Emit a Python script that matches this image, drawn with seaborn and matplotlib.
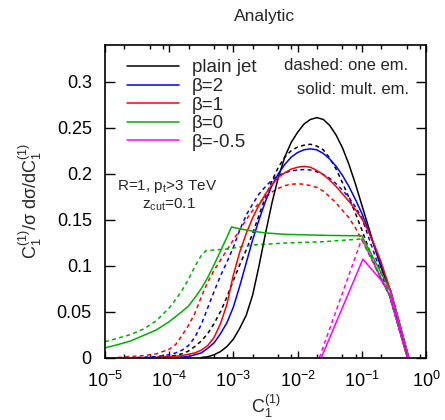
import numpy as np
import matplotlib
matplotlib.use("Agg")
import matplotlib.pyplot as plt
import matplotlib.ticker as mticker
import seaborn as sns

# ---- data (log10 of C1, value) ----
plain_solid_lx = [-3.5, -3.4, -3.3, -3.2, -3.1, -3.0, -2.9, -2.8, -2.7, -2.6, -2.5, -2.4, -2.3, -2.2, -2.1, -2.0,
                  -1.9, -1.8, -1.7, -1.6, -1.5, -1.4, -1.3, -1.2, -1.1, -1.0, -0.9, -0.8, -0.7, -0.62, -0.55, -0.27]
plain_solid_y = [0.0, 0.0008, 0.003, 0.0065, 0.012, 0.020, 0.032, 0.046, 0.068, 0.100, 0.135, 0.168, 0.196, 0.218,
                 0.234, 0.245, 0.254, 0.259, 0.261, 0.259, 0.2525, 0.242, 0.228, 0.210, 0.189, 0.166, 0.143, 0.120,
                 0.098, 0.083, 0.072, 0.0]

plain_dash_lx = [-4.3, -4.0, -3.8, -3.7, -3.6, -3.5, -3.4, -3.3, -3.2, -3.1, -3.0, -2.9, -2.8, -2.7, -2.6, -2.5,
                 -2.4, -2.3, -2.2, -2.1, -2.0, -1.9, -1.8, -1.7, -1.6, -1.5, -1.4, -1.3, -1.2, -1.1, -1.0, -0.9,
                 -0.8, -0.7, -0.57, -0.29]
plain_dash_y = [0.0, 0.001, 0.004, 0.007, 0.012, 0.018, 0.026, 0.037, 0.050, 0.066, 0.084, 0.101, 0.117, 0.135,
                0.155, 0.175, 0.192, 0.207, 0.218, 0.225, 0.229, 0.231, 0.232, 0.230, 0.226, 0.217, 0.205, 0.190,
                0.174, 0.157, 0.139, 0.120, 0.101, 0.085, 0.068, 0.0]

b2_solid_lx = [-3.9, -3.7, -3.5, -3.4, -3.3, -3.2, -3.1, -3.0, -2.9, -2.8, -2.7, -2.6, -2.5, -2.4, -2.3, -2.2, -2.1,
               -2.0, -1.9, -1.8, -1.7, -1.6, -1.5, -1.4, -1.3, -1.2, -1.1, -1.0, -0.9, -0.8, -0.7, -0.62, -0.55, -0.27]
b2_solid_y = [0.0, 0.001, 0.005, 0.010, 0.016, 0.026, 0.038, 0.055, 0.078, 0.103, 0.128, 0.150, 0.170, 0.187,
              0.200, 0.210, 0.218, 0.223, 0.226, 0.227, 0.226, 0.222, 0.216, 0.208, 0.198, 0.186, 0.172, 0.157,
              0.139, 0.120, 0.101, 0.085, 0.072, 0.0]

b2_dash_lx = [-4.5, -4.2, -4.0, -3.9, -3.8, -3.7, -3.6, -3.5, -3.4, -3.3, -3.2, -3.1, -3.0, -2.9, -2.8, -2.7, -2.6,
              -2.5, -2.4, -2.3, -2.2, -2.1, -2.0, -1.9, -1.8, -1.7, -1.6, -1.5, -1.4, -1.3, -1.2, -1.1, -1.0, -0.9,
              -0.8, -0.7, -0.57, -0.29]
b2_dash_y = [0.0, 0.001, 0.003, 0.005, 0.008, 0.013, 0.022, 0.036, 0.054, 0.072, 0.089, 0.104, 0.120, 0.139, 0.155,
             0.167, 0.178, 0.186, 0.193, 0.198, 0.201, 0.203, 0.204, 0.2045, 0.204, 0.202, 0.199, 0.195, 0.189, 0.182,
             0.174, 0.164, 0.152, 0.132, 0.112, 0.092, 0.068, 0.0]

b1_solid_lx = [-4.2, -4.0, -3.8, -3.6, -3.5, -3.4, -3.3, -3.2, -3.1, -3.0, -2.9, -2.8, -2.7, -2.6, -2.5, -2.4, -2.3,
               -2.2, -2.1, -2.0, -1.9, -1.8, -1.7, -1.6, -1.5, -1.4, -1.3, -1.2, -1.1, -1.0, -0.9, -0.8, -0.7, -0.62,
               -0.55, -0.27]
b1_solid_y = [0.0, 0.0008, 0.002, 0.005, 0.008, 0.013, 0.022, 0.037, 0.058, 0.090, 0.115, 0.135, 0.152, 0.166, 0.178,
              0.188, 0.196, 0.201, 0.205, 0.207, 0.208, 0.207, 0.2035, 0.199, 0.193, 0.186, 0.178, 0.170, 0.161, 0.151,
              0.138, 0.122, 0.104, 0.087, 0.072, 0.0]

b1_dash_lx = [-4.8, -4.6, -4.4, -4.2, -4.0, -3.9, -3.8, -3.7, -3.6, -3.5, -3.4, -3.3, -3.2, -3.1, -3.0, -2.9, -2.8,
              -2.7, -2.6, -2.5, -2.4, -2.3, -2.2, -2.1, -2.0, -1.9, -1.8, -1.7, -1.6, -1.5, -1.4, -1.3, -1.2, -1.1,
              -1.0, -0.9, -0.8, -0.7, -0.57, -0.29]
b1_dash_y = [0.0, 0.001, 0.002, 0.004, 0.009, 0.014, 0.024, 0.035, 0.048, 0.066, 0.082, 0.095, 0.106, 0.117, 0.128,
             0.139, 0.150, 0.160, 0.168, 0.175, 0.180, 0.184, 0.187, 0.1885, 0.189, 0.1885, 0.187, 0.185, 0.181,
             0.175, 0.168, 0.160, 0.152, 0.141, 0.128, 0.114, 0.100, 0.086, 0.068, 0.0]

b0_solid_lx = [-5.0, -4.8, -4.6, -4.4, -4.2, -4.0, -3.8, -3.7, -3.6, -3.5, -3.4, -3.3, -3.2, -3.1, -3.03, -2.9,
               -2.7, -2.5, -2.2, -1.86, -1.5, -1.0, -0.55, -0.27]
b0_solid_y = [0.0105, 0.014, 0.018, 0.024, 0.030, 0.039, 0.050, 0.056, 0.065, 0.075, 0.087, 0.101, 0.116, 0.131,
              0.142, 0.140, 0.1375, 0.1355, 0.134, 0.1334, 0.1328, 0.1324, 0.072, 0.0]

b0_dash_lx = [-5.0, -4.8, -4.6, -4.4, -4.2, -4.0, -3.9, -3.8, -3.7, -3.6, -3.5, -3.43, -3.3, -3.1, -2.69, -2.2,
              -1.6, -1.0, -0.57, -0.29]
b0_dash_y = [0.0172, 0.021, 0.025, 0.031, 0.040, 0.054, 0.063, 0.073, 0.085, 0.099, 0.111, 0.116, 0.117, 0.118,
             0.1225, 0.1245, 0.126, 0.129, 0.068, 0.0]

bm_solid_lx = [-1.63, -0.983, -0.55, -0.27]
bm_solid_y = [0.0, 0.107, 0.072, 0.0]

bm_dash_lx = [-1.66, -1.0, -0.57, -0.29]
bm_dash_y = [0.0, 0.129, 0.068, 0.0]

labels = ["plain jet", "β=2", "β=1", "β=0", "β=-0.5"]
colors = ["#000000", "#0000ff", "#ff0000", "#00b000", "#ff00ff"]
solid_series = [(plain_solid_lx, plain_solid_y), (b2_solid_lx, b2_solid_y), (b1_solid_lx, b1_solid_y),
                (b0_solid_lx, b0_solid_y), (bm_solid_lx, bm_solid_y)]
dash_series = [(plain_dash_lx, plain_dash_y), (b2_dash_lx, b2_dash_y), (b1_dash_lx, b1_dash_y),
               (b0_dash_lx, b0_dash_y), (bm_dash_lx, bm_dash_y)]
yticks = [0, 0.05, 0.1, 0.15, 0.2, 0.25, 0.3]

sns.set_style("ticks")
plt.rcParams["font.family"] = ["Liberation Sans", "DejaVu Sans"]
plt.rcParams["mathtext.fontset"] = "custom"
plt.rcParams["mathtext.rm"] = "Liberation Sans"
plt.rcParams["mathtext.it"] = "Liberation Sans:italic"
plt.rcParams["mathtext.bf"] = "Liberation Sans:bold"

fig = plt.figure(figsize=(4.45, 4.2), dpi=100)
ax = fig.add_axes([105/445, 1-357.5/420, 321/445, 312.5/420])

lw = 1.1
for (lx, y), c in zip(dash_series, colors):
    sns.lineplot(x=10**np.array(lx), y=y, color=c, lw=lw, linestyle=(0, (2.6, 2.2)),
                 ax=ax, sort=False, estimator=None)
handles = []
for (lx, y), c, lab in zip(solid_series, colors, labels):
    sns.lineplot(x=10**np.array(lx), y=y, color=c, lw=lw, ax=ax, sort=False, estimator=None)
    handles.append(ax.get_lines()[-1])

ax.set_xscale("log")
ax.set_xlim(1e-5, 1)
ax.set_ylim(0, 0.34)
ax.set_yticks(yticks)
ax.yaxis.set_major_formatter(mticker.FuncFormatter(lambda v, p: "%g" % v))
ax.xaxis.set_major_locator(mticker.LogLocator(base=10, numticks=10))
ax.xaxis.set_minor_locator(mticker.LogLocator(base=10, subs=[2, 5, 8], numticks=20))
ax.xaxis.set_minor_formatter(mticker.NullFormatter())
ax.tick_params(which="both", direction="in", top=True, right=True, labelsize=13, width=1.0, color="black",
               labelcolor="black")
ax.tick_params(axis="x", which="major", length=5, pad=10)
ax.tick_params(axis="x", which="minor", length=3)
ax.tick_params(axis="y", which="major", length=7, pad=9.5)
for s in ax.spines.values():
    s.set_linewidth(1.2)
    s.set_color("black")

ax.set_xlabel("C$_1^{(1)}$", fontsize=13)
ax.set_ylabel("C$_1^{(1)}$/σ dσ/dC$_1^{(1)}$", fontsize=13)
ax.xaxis.set_label_coords(0.5, -0.112)
ax.yaxis.set_label_coords(-0.19, 0.5)

leg = ax.legend(handles=handles, labels=labels, loc="upper left", bbox_to_anchor=(0.07, 0.954),
                frameon=False, fontsize=13.5, handlelength=2.77, handletextpad=0.68,
                labelspacing=0.08, borderpad=0, borderaxespad=0)

ax.text(0.944, 0.936, "dashed: one em.", transform=ax.transAxes, ha="right", va="center", fontsize=12)
ax.text(0.947, 0.858, "solid: mult. em.", transform=ax.transAxes, ha="right", va="center", fontsize=12)
ax.text(0.195, 0.547, "R=1, p$_\\mathrm{t}$>3 TeV", transform=ax.transAxes, ha="center", va="center", fontsize=11)
ax.text(0.198, 0.488, "z$_\\mathrm{cut}$=0.1", transform=ax.transAxes, ha="center", va="center", fontsize=11)
fig.text(265/445, 1-17/420, "Analytic", ha="center", va="center", fontsize=12.5)

fig.savefig("out.png", dpi=100)
